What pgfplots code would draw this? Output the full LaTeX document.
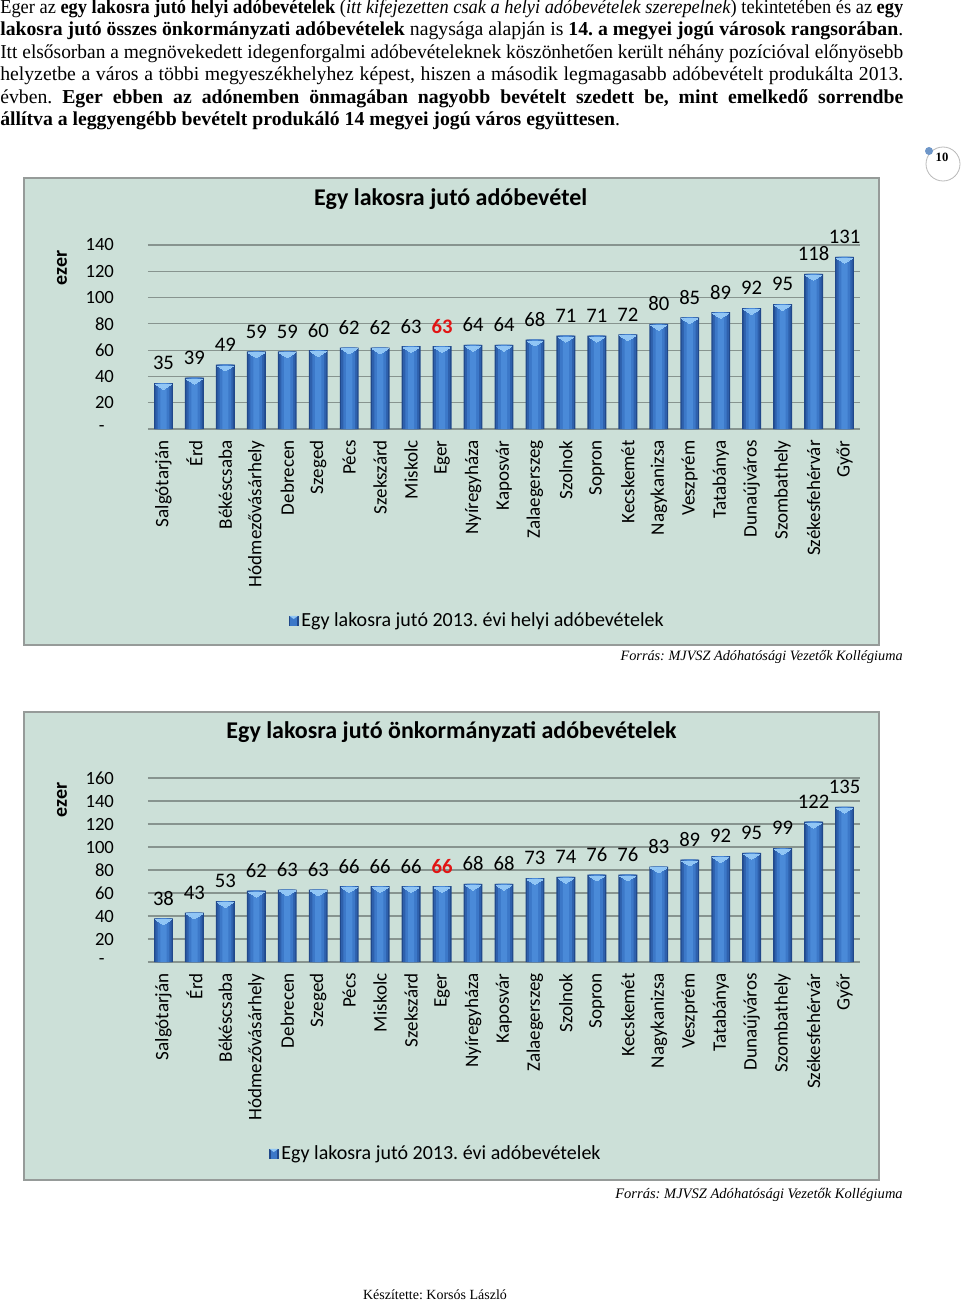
\documentclass[border=0pt]{standalone}
\usepackage{fontspec}
\setmainfont{Liberation Serif}
\newfontfamily\calfont{Carlito}
\usepackage{graphicx}
\usepackage{pgfplots}
\pgfplotsset{compat=1.18}
\usepackage{pgfplotstable}
\frenchspacing
\definecolor{bgc}{RGB}{204,224,216}
\definecolor{framec}{RGB}{150,155,153}
\definecolor{gridc}{RGB}{135,148,143}
\definecolor{barA}{RGB}{32,72,138}
\definecolor{barB}{RGB}{46,96,172}
\definecolor{barC}{RGB}{60,120,200}
\definecolor{barE}{RGB}{74,138,216}
\definecolor{chev}{RGB}{145,198,245}
\definecolor{egred}{RGB}{225,20,20}
\definecolor{dotc}{RGB}{110,150,200}

\pgfplotstableread{
x y lab
0 35 35
1 39 39
2 49 49
3 59 59
4 59 59
5 60 60
6 62 62
7 62 62
8 63 63
9 63 {\textcolor{egred}{\textbf{63}}}
10 64 64
11 64 64
12 68 68
13 71 71
14 71 71
15 72 72
16 80 80
17 85 85
18 89 89
19 92 92
20 95 95
21 118 118
22 131 131
}\dataA

\pgfplotstableread{
x y lab
0 38 38
1 43 43
2 53 53
3 62 62
4 63 63
5 63 63
6 66 66
7 66 66
8 66 66
9 66 {\textcolor{egred}{\textbf{66}}}
10 68 68
11 68 68
12 73 73
13 74 74
14 76 76
15 76 76
16 83 83
17 89 89
18 92 92
19 95 95
20 99 99
21 122 122
22 135 135
}\dataB

\pgfplotsset{
  cstyle/.style={
    scale only axis, width=534pt, height=138pt,
    anchor=south west,
    xmin=-0.5, xmax=22.5, ymin=0,
    axis line style={draw=none}, major tick style={draw=none},
    ymajorgrids, grid style={gridc, line width=0.8pt},
    xtick={0,...,22},
    x tick label style={rotate=90, anchor=east, font=\calfont\fontsize{14.3}{16}\selectfont},
    xticklabel shift=5pt,
    y tick label style={anchor=east, font=\calfont\fontsize{14}{16}\selectfont, xshift=-22pt},
    every axis y label/.style={at={(axis description cs:-0.1208,0.875)}, rotate=90, anchor=center, font=\calfont\bfseries\fontsize{15}{17}\selectfont},
    title style={anchor=center, font=\calfont\bfseries\fontsize{18}{20}\selectfont},
    legend style={anchor=center, draw=none, fill=none, font=\calfont\fontsize{15}{17}\selectfont, inner sep=0pt},
    legend image code/.code={\fill[barA] (0pt,-3.6pt) rectangle (7.5pt,3.9pt); \fill[barC] (1.3pt,-3.6pt) rectangle (6.2pt,3.9pt); \fill[chev] (0.5pt,3.9pt) -- (7pt,3.9pt) -- (3.75pt,1.5pt) -- cycle;},
    clip=false,
  },
  barstyle/.style={ybar, bar shift=0pt, bar width=0.61, draw=none, fill=barA,
    nodes near coords, point meta=explicit symbolic,
    every node near coord/.append style={anchor=center, yshift=15pt, text=black, font=\calfont\fontsize{15.5}{17}\selectfont}},
  layer/.style={ybar, bar shift=0pt, forget plot, draw=none, bar width=#1},
  chevstyle/.style={only marks, forget plot, color=chev, mark=triangle*, mark size=6.8pt,
    mark options={yshift=-2.3pt, rotate=180, yscale=0.36, fill=chev, draw=chev, line width=0pt}},
}

\newsavebox\lbox
\newcommand\jl[2]{\node[anchor=base west, inner sep=0pt] at (0,#1) {\sbox\lbox{#2}\ifdim\wd\lbox>677.25pt\relax\resizebox{677.25pt}{\height}{\usebox\lbox}\else\makebox[677.25pt][s]{#2}\fi};}

\begin{document}
\begin{tikzpicture}
\useasboundingbox (0,0) rectangle (720pt,-976.5pt);
\begin{scope}[x=0.75pt,y=-0.75pt]
  \fill[white] (0,0) rectangle (960,1302);
  % body text
  \begin{scope}[font=\fontsize{14.8}{17}\selectfont]
  \jl{13.5}{Eger az \textbf{egy lakosra jutó helyi adóbevételek} (\textit{itt kifejezetten csak a helyi adóbevételek szerepelnek}) tekintetében és az \textbf{egy}}
  \jl{36}{\textbf{lakosra jutó összes önkormányzati adóbevételek} nagysága alapján is \textbf{14. a megyei jogú városok rangsorában}.}
  \jl{58.5}{Itt elsősorban a megnövekedett idegenforgalmi adóbevételeknek köszönhetően került néhány pozícióval előnyösebb}
  \jl{81}{helyzetbe a város a többi megyeszékhelyhez képest, hiszen a második legmagasabb adóbevételt produkálta 2013.}
  \jl{103.5}{évben. \textbf{Eger ebben az adónemben önmagában nagyobb bevételt szedett be, mint emelkedő sorrendbe}}
  \node[anchor=base west, inner sep=0pt] at (0,126) {\textbf{állítva a leggyengébb bevételt produkáló 14 megyei jogú város együttesen}.};
  \end{scope}
  % page number
  \draw[gray!55, line width=0.6pt] (943,164) circle[radius=17];
  \fill[dotc] (929,151) circle[radius=4];
  \node[font=\bfseries\fontsize{9.5}{11}\selectfont, inner sep=0pt] at (942,157) {10};
  % frames
  \filldraw[fill=bgc, draw=framec, line width=1.5pt] (24,178) rectangle (879,645);
  \filldraw[fill=bgc, draw=framec, line width=1.5pt] (24,712) rectangle (879,1180);
  % sources and footer
  \node[anchor=base east, inner sep=0pt, font=\itshape\fontsize{10.7}{13}\selectfont] at (903,660) {Forrás: MJVSZ Adóhatósági Vezetők Kollégiuma};
  \node[anchor=base east, inner sep=0pt, font=\itshape\fontsize{10.9}{13}\selectfont] at (903,1198) {Forrás: MJVSZ Adóhatósági Vezetők Kollégiuma};
  \node[anchor=base, inner sep=0pt, font=\fontsize{10.5}{12}\selectfont] at (435,1299) {Készítette: Korsós László};
\end{scope}

\begin{axis}[cstyle, at={(111pt,-321.75pt)}, ymax=140,
  ytick={0,20,...,140}, yticklabels={{-\kern7pt},20,40,60,80,100,120,140},
  xticklabels={Salgótarján,Érd,Békéscsaba,Hódmezővásárhely,Debrecen,Szeged,Pécs,Szekszárd,Miskolc,Eger,Nyíregyháza,Kaposvár,Zalaegerszeg,Szolnok,Sopron,Kecskemét,Nagykanizsa,Veszprém,Tatabánya,Dunaújváros,Szombathely,Székesfehérvár,Győr},
  ylabel={ezer},
  title={Egy lakosra jutó adóbevétel}, title style={at={(0.425,1.2065)}},
  legend style={at={(0.4628,-1.0435)}},
]
\addplot[barstyle] table[x=x, y=y, meta=lab] {\dataA};
\addlegendentry{Egy lakosra jutó 2013. évi helyi adóbevételek}
\addplot[layer=0.52, fill=barB] table[x=x, y=y] {\dataA};
\addplot[layer=0.38, fill=barC] table[x=x, y=y] {\dataA};
\addplot[layer=0.2, fill=barE] table[x=x, y=y] {\dataA};
\addplot[chevstyle] table[x=x, y=y] {\dataA};
\end{axis}

\begin{axis}[cstyle, at={(111pt,-721.5pt)}, ymax=160,
  ytick={0,20,...,160}, yticklabels={{-\kern7pt},20,40,60,80,100,120,140,160},
  xticklabels={Salgótarján,Érd,Békéscsaba,Hódmezővásárhely,Debrecen,Szeged,Pécs,Miskolc,Szekszárd,Eger,Nyíregyháza,Kaposvár,Zalaegerszeg,Szolnok,Sopron,Kecskemét,Nagykanizsa,Veszprém,Tatabánya,Dunaújváros,Szombathely,Székesfehérvár,Győr},
  ylabel={ezer},
  every axis y label/.append style={at={(axis description cs:-0.1208,0.88)}},
  title={Egy lakosra jutó önkormányzati adóbevételek}, title style={at={(0.4263,1.2065)}},
  legend style={at={(0.4045,-1.0435)}},
]
\addplot[barstyle] table[x=x, y=y, meta=lab] {\dataB};
\addlegendentry{Egy lakosra jutó 2013. évi adóbevételek}
\addplot[layer=0.52, fill=barB] table[x=x, y=y] {\dataB};
\addplot[layer=0.38, fill=barC] table[x=x, y=y] {\dataB};
\addplot[layer=0.2, fill=barE] table[x=x, y=y] {\dataB};
\addplot[chevstyle] table[x=x, y=y] {\dataB};
\end{axis}
\end{tikzpicture}
\end{document}
